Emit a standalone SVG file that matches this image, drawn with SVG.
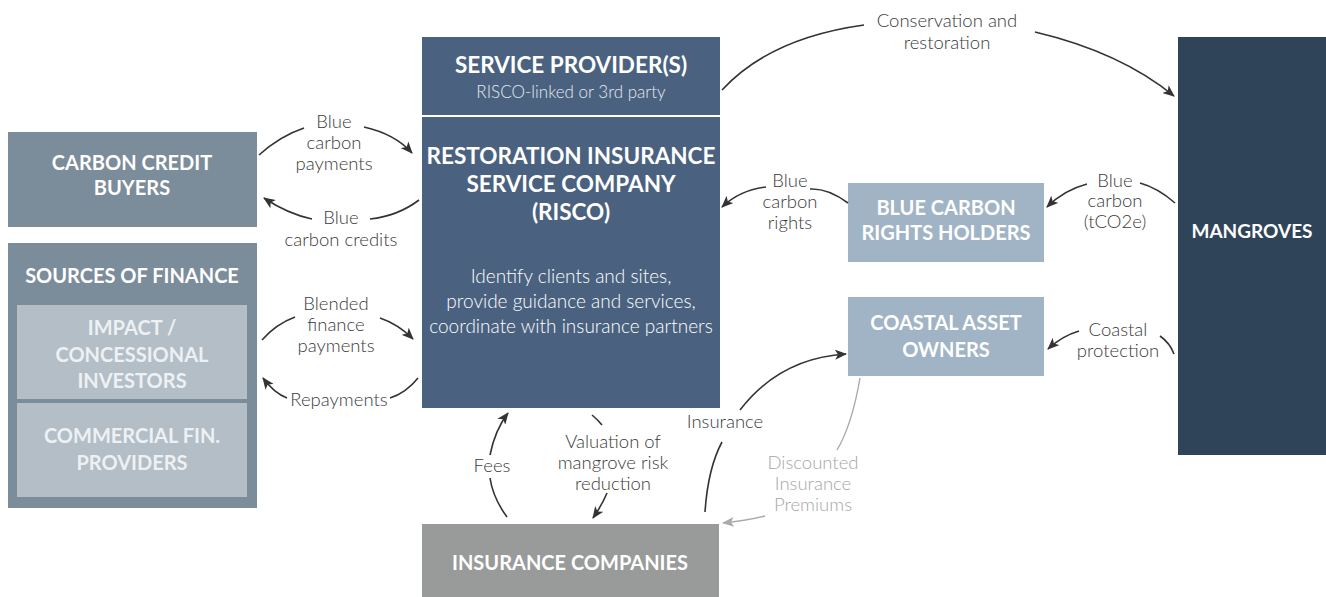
<svg xmlns="http://www.w3.org/2000/svg" width="1326" height="597" viewBox="0 0 1326 597">
<style>
.h{font-family:Lato,"Open Sans","Liberation Sans",sans-serif;font-weight:700;font-size:20px;fill:#fff;text-anchor:middle}
.hb{font-size:22.5px}
.hi{fill:#eef1f4}
.b{font-family:Lato,"Open Sans","Liberation Sans",sans-serif;font-weight:300;font-size:19px;fill:#fff;text-anchor:middle}
.l{font-family:Lato,"Open Sans","Liberation Sans",sans-serif;font-weight:300;font-size:18.5px;fill:#3a3a3a;text-anchor:middle}
.g{fill:#a6a6a6}
.c{fill:none;stroke:#333;stroke-width:1.6}
.cg{fill:none;stroke:#aaa;stroke-width:1.4}
</style>
<defs>
<marker id="ah" viewBox="0 0 12 10" refX="11" refY="5" markerWidth="12" markerHeight="10" markerUnits="userSpaceOnUse" orient="auto">
<path d="M0,0 L12,5 L0,10 L3,5 z" fill="#333"/>
</marker>
<marker id="ahg" viewBox="0 0 12 10" refX="11" refY="5" markerWidth="12" markerHeight="10" markerUnits="userSpaceOnUse" orient="auto">
<path d="M0,0 L12,5 L0,10 L3,5 z" fill="#aaa"/>
</marker>
</defs>
<rect width="1326" height="597" fill="#fff"/>

<g id="carbon-credit-buyers">
<rect x="8" y="132" width="249" height="95" fill="#7b8c9b"/>
<text class="h" x="132" y="170">CARBON CREDIT</text>
<text class="h" x="132" y="195">BUYERS</text>
</g>

<g id="sources-of-finance">
<rect x="8" y="243" width="249" height="265" fill="#7b8c9b"/>
<text class="h" x="132" y="283">SOURCES OF FINANCE</text>
</g>
<g id="impact-investors">
<rect x="17" y="305" width="230" height="94" fill="#b3bec7"/>
<text class="h hi" x="132" y="335">IMPACT /</text>
<text class="h hi" x="132" y="362">CONCESSIONAL</text>
<text class="h hi" x="132" y="388">INVESTORS</text>
</g>
<g id="commercial-fin-providers">
<rect x="17" y="403" width="230" height="94" fill="#b3bec7"/>
<text class="h hi" x="132" y="443">COMMERCIAL FIN.</text>
<text class="h hi" x="132" y="470">PROVIDERS</text>
</g>

<g id="service-providers">
<rect x="422" y="37" width="298" height="78" fill="#4a6280"/>
<text class="h hb" x="571" y="73">SERVICE PROVIDER(S)</text>
<text class="b" x="571" y="98" style="font-size:17px;fill:#e4e9ef">RISCO-linked or 3rd party</text>
</g>

<g id="risco">
<rect x="422" y="117" width="298" height="291" fill="#4a6280"/>
<text class="h hb" x="571" y="164">RESTORATION INSURANCE</text>
<text class="h hb" x="571" y="192">SERVICE COMPANY</text>
<text class="h hb" x="571" y="220">(RISCO)</text>
<text class="b" x="571" y="283">Identify clients and sites,</text>
<text class="b" x="571" y="308">provide guidance and services,</text>
<text class="b" x="571" y="333">coordinate with insurance partners</text>
</g>

<g id="blue-carbon-rights-holders">
<rect x="848" y="183" width="196" height="79" fill="#a0b4c5"/>
<text class="h" x="946" y="215">BLUE CARBON</text>
<text class="h" x="946" y="240">RIGHTS HOLDERS</text>
</g>

<g id="coastal-asset-owners">
<rect x="848" y="297" width="196" height="79" fill="#a0b4c5"/>
<text class="h" x="946" y="330">COASTAL ASSET</text>
<text class="h" x="946" y="357">OWNERS</text>
</g>

<g id="mangroves">
<rect x="1178" y="37" width="148" height="418" fill="#2f4459"/>
<text class="h" x="1252" y="238" style="font-size:19px">MANGROVES</text>
</g>

<g id="insurance-companies">
<rect x="422" y="524" width="297" height="73" fill="#999a9a"/>
<text class="h" x="570" y="570">INSURANCE COMPANIES</text>
</g>

<g id="connectors">
<path class="c" d="M259,155 Q280,136 304,128"/>
<path class="c" d="M364,127 Q395,134 412,153" marker-end="url(#ah)"/>
<path class="c" d="M419,200 Q398,216 370,219"/>
<path class="c" d="M312,219 Q288,214 264,198" marker-end="url(#ah)"/>
<path class="c" d="M262,340 Q276,324 295,317"/>
<path class="c" d="M380,318 Q398,324 413,339" marker-end="url(#ah)"/>
<path class="c" d="M418,378 Q406,393 390,398"/>
<path class="c" d="M287,398 Q274,393 263,378" marker-end="url(#ah)"/>
<path class="c" d="M722,90 Q770,38 864,25"/>
<path class="c" d="M1035,32 Q1120,52 1174,96" marker-end="url(#ah)"/>
<path class="c" d="M848,203 Q828,188 810,189"/>
<path class="c" d="M766,187 Q740,190 722,207" marker-end="url(#ah)"/>
<path class="c" d="M1175,203 Q1158,188 1140,183"/>
<path class="c" d="M1087,184 Q1064,190 1047,207" marker-end="url(#ah)"/>
<path class="c" d="M1174,354 Q1170,343 1160,336"/>
<path class="c" d="M1079,331 Q1062,336 1048,349" marker-end="url(#ah)"/>
<path class="c" d="M705,512 Q708,468 722,442"/>
<path class="c" d="M740,410 Q780,358 846,354" marker-end="url(#ah)"/>
<path class="cg" d="M860,378 Q852,425 837,450"/>
<path class="cg" d="M765,516 Q745,521 723,523" marker-end="url(#ahg)"/>
<path class="c" d="M507,517 Q493,498 490,478"/>
<path class="c" d="M490,455 Q495,430 508,413" marker-end="url(#ah)"/>
<path class="c" d="M592,415 Q598,420 602,425"/>
<path class="c" d="M607,493 Q602,505 593,518" marker-end="url(#ah)"/>
</g>

<g id="labels">
<text class="l" x="334" y="128">Blue</text>
<text class="l" x="334" y="149">carbon</text>
<text class="l" x="334" y="170">payments</text>
<text class="l" x="341" y="224">Blue</text>
<text class="l" x="341" y="246">carbon credits</text>
<text class="l" x="336" y="310">Blended</text>
<text class="l" x="336" y="331">finance</text>
<text class="l" x="336" y="352">payments</text>
<text class="l" x="339" y="406">Repayments</text>
<text class="l" x="947" y="27">Conservation and</text>
<text class="l" x="947" y="49">restoration</text>
<text class="l" x="790" y="187">Blue</text>
<text class="l" x="790" y="208">carbon</text>
<text class="l" x="790" y="229">rights</text>
<text class="l" x="1115" y="187">Blue</text>
<text class="l" x="1115" y="207">carbon</text>
<text class="l" x="1115" y="228">(tCO2e)</text>
<text class="l" x="1118" y="336">Coastal</text>
<text class="l" x="1118" y="357">protection</text>
<text class="l" x="725" y="428">Insurance</text>
<text class="l" x="492" y="472">Fees</text>
<text class="l" x="613" y="448">Valuation of</text>
<text class="l" x="613" y="469">mangrove risk</text>
<text class="l" x="613" y="490">reduction</text>
<text class="l g" x="813" y="469">Discounted</text>
<text class="l g" x="813" y="490">Insurance</text>
<text class="l g" x="813" y="511">Premiums</text>
</g>
</svg>
